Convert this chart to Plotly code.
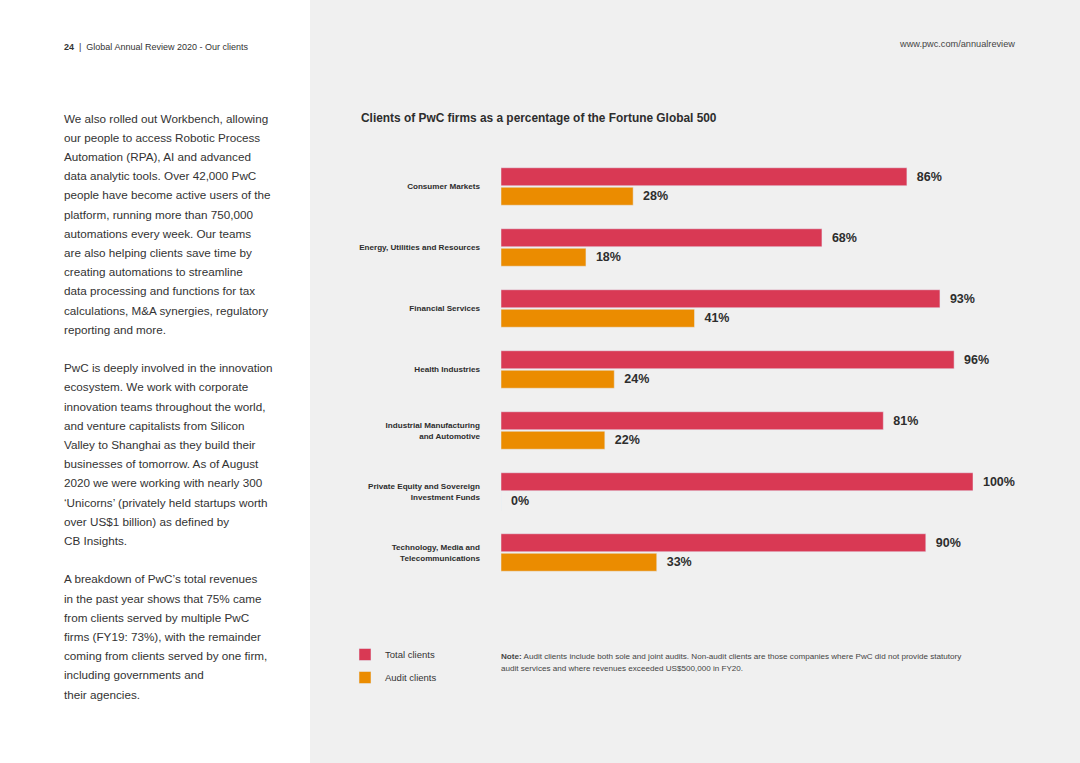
import plotly.graph_objects as go

W, H = 1080, 763

categories = ["Consumer Markets", "Energy, Utilities and Resources", "Financial Services",
              "Health Industries", "Industrial Manufacturing and Automotive",
              "Private Equity and Sovereign Investment Funds",
              "Technology, Media and Telecommunications"]
tick_labels = ["Consumer Markets", "Energy, Utilities and Resources", "Financial Services",
               "Health Industries", "Industrial Manufacturing<br>and Automotive",
               "Private Equity and Sovereign<br>Investment Funds",
               "Technology, Media and<br>Telecommunications"]
total_clients = [86, 68, 93, 96, 81, 100, 90]
audit_clients = [28, 18, 41, 24, 22, 0, 33]

body_lines = [
    "We also rolled out Workbench, allowing",
    "our people to access Robotic Process",
    "Automation (RPA), AI and advanced",
    "data analytic tools. Over 42,000 PwC",
    "people have become active users of the",
    "platform, running more than 750,000",
    "automations every week. Our teams",
    "are also helping clients save time by",
    "creating automations to streamline",
    "data processing and functions for tax",
    "calculations, M&A synergies, regulatory",
    "reporting and more.",
    "",
    "PwC is deeply involved in the innovation",
    "ecosystem. We work with corporate",
    "innovation teams throughout the world,",
    "and venture capitalists from Silicon",
    "Valley to Shanghai as they build their",
    "businesses of tomorrow. As of August",
    "2020 we were working with nearly 300",
    "‘Unicorns’ (privately held startups worth",
    "over US$1 billion) as defined by",
    "CB Insights.",
    "",
    "A breakdown of PwC’s total revenues",
    "in the past year shows that 75% came",
    "from clients served by multiple PwC",
    "firms (FY19: 73%), with the remainder",
    "coming from clients served by one firm,",
    "including governments and",
    "their agencies.",
]

RED = "#d93954"
ORANGE = "#eb8c00"
PANEL = "#f0f0f0"
TXT = "#2d2d2d"
FONT = "Liberation Sans, Arial, sans-serif"


def px(x):
    return x / W


def py(y):
    return 1 - y / H


def note(x, y, text, size, color="#333333", anchor="left"):
    return dict(x=px(x), y=py(y), xref="paper", yref="paper", xanchor=anchor, yanchor="middle",
                text=text, showarrow=False, borderpad=0, borderwidth=0,
                font=dict(family=FONT, size=size, color=color))


fig = go.Figure()
fig.add_trace(go.Bar(
    y=categories, x=total_clients, orientation="h", name="Total clients",
    marker=dict(color=RED), legendgroup="a",
    texttemplate="\u00a0\u00a0%{x}%", textposition="outside",
    textfont=dict(family=FONT, size=12.5, color=TXT, weight="bold"),
    cliponaxis=False, hoverinfo="skip"))
fig.add_trace(go.Bar(
    y=categories, x=audit_clients, orientation="h", name="Audit clients",
    marker=dict(color=ORANGE), legendgroup="b",
    texttemplate="\u00a0\u00a0%{x}%", textposition="outside",
    textfont=dict(family=FONT, size=12.5, color=TXT, weight="bold"),
    cliponaxis=False, hoverinfo="skip"))

annotations = []
annotations.append(note(64, 47, "<b>24</b>  |  Global Annual Review 2020 - Our clients", 9))
annotations.append(note(1015, 44, "www.pwc.com/annualreview", 9.2, "#444444", "right"))
for i, line in enumerate(body_lines):
    if line:
        annotations.append(note(64, 118 + 19.2 * i, line, 11.7))
annotations.append(note(361, 118, "<b>Clients of PwC firms as a percentage of the Fortune Global 500</b>",
                        11.9, TXT))
annotations.append(note(501, 656, "<b>Note:</b> Audit clients include both sole and joint audits. "
                        "Non-audit clients are those companies where PwC did not provide statutory",
                        8.1, "#444444"))
annotations.append(note(501, 668, "audit services and where revenues exceeded US$500,000 in FY20.",
                        8.1, "#444444"))

fig.update_layout(
    width=W, height=H, autosize=False,
    margin=dict(l=0, r=0, t=0, b=0),
    paper_bgcolor="white", plot_bgcolor="rgba(0,0,0,0)",
    barmode="group", bargap=0.36, bargroupgap=0.08,
    font=dict(family=FONT, color=TXT),
    xaxis=dict(domain=[px(501), px(973)], range=[0, 100], visible=False, fixedrange=True),
    yaxis=dict(domain=[py(583), py(156)], autorange="reversed", tickvals=categories,
               ticktext=tick_labels, showgrid=False, zeroline=False, showline=False,
               ticks="", ticklabelstandoff=20,
               tickfont=dict(family=FONT, size=8.1, color=TXT, weight="bold"), fixedrange=True),
    legend=dict(x=px(345), y=py(640), xanchor="left", yanchor="top", orientation="v",
                font=dict(family=FONT, size=9.5, color="#333333"), bgcolor="rgba(0,0,0,0)",
                tracegroupgap=4, traceorder="grouped"),
    shapes=[dict(type="rect", xref="paper", yref="paper", x0=px(310), x1=1, y0=0, y1=1,
                 fillcolor=PANEL, line=dict(width=0), layer="below")],
    annotations=annotations,
)

fig.write_html("out.html", config={"displayModeBar": False},
               post_script="document.body.style.margin='0';document.body.style.overflow='hidden';")
